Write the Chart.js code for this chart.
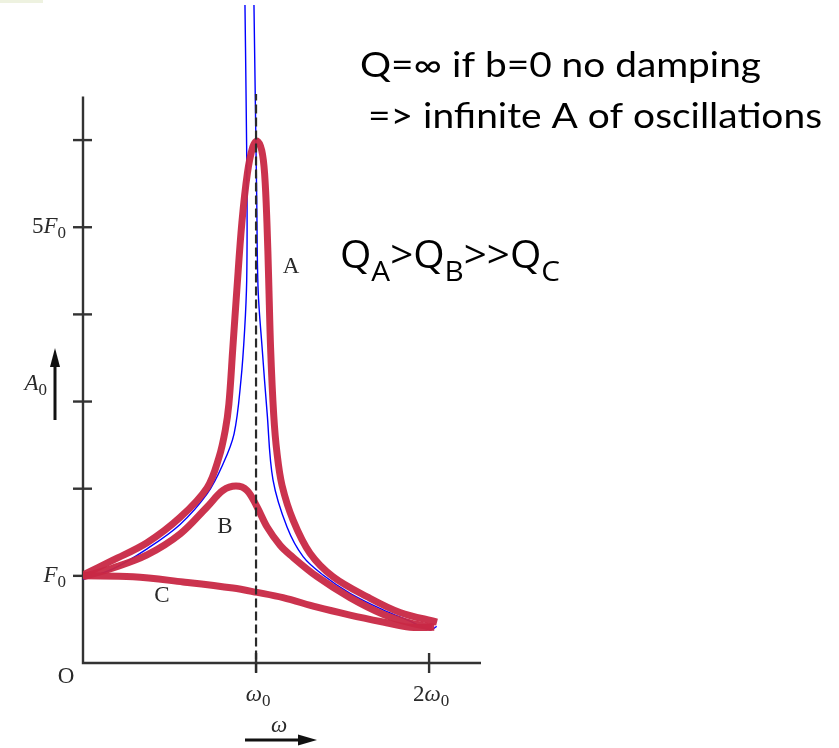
<!DOCTYPE html>
<html>
<head>
<meta charset="utf-8">
<script src="https://cdn.jsdelivr.net/npm/chart.js@4.4.1/dist/chart.umd.min.js"></script>
<style>
  html, body { margin: 0; padding: 0; background: #fff; }
  #wrap { width: 839px; height: 748px; }
</style>
</head>
<body>
<div id="wrap"><canvas id="chart" width="839" height="748"></canvas></div>
<script>
// omega in units of w0, amplitude in units of F0
const curveA_w   = [0, 0.173, 0.370, 0.561, 0.717, 0.786, 0.822, 0.843, 0.866, 0.889, 0.918, 0.950, 0.981, 1.006, 1.033, 1.050, 1.063, 1.073, 1.084, 1.102, 1.121, 1.150, 1.214, 1.312, 1.445, 1.642, 1.832, 2.046];
const curveA_amp = [1.01, 1.18, 1.38, 1.67, 2.01, 2.36, 2.67, 2.97, 3.62, 4.28, 5.05, 5.62, 5.92, 5.99, 5.88, 5.60, 5.05, 4.40, 3.62, 2.85, 2.41, 2.04, 1.64, 1.26, 0.99, 0.76, 0.58, 0.47];

const curveB_w   = [0, 0.173, 0.370, 0.561, 0.717, 0.809, 0.884, 0.948, 1.006, 1.064, 1.139, 1.197, 1.353, 1.543, 1.734, 1.890, 2.017];
const curveB_amp = [0.99, 1.09, 1.24, 1.48, 1.79, 1.98, 2.03, 1.98, 1.79, 1.56, 1.35, 1.24, 0.99, 0.75, 0.56, 0.46, 0.41];

const curveC_w   = [0, 0.289, 0.578, 0.867, 1.006, 1.156, 1.353, 1.543, 1.734, 1.890, 2.030];
const curveC_amp = [1.00, 0.99, 0.93, 0.86, 0.81, 0.75, 0.64, 0.55, 0.47, 0.41, 0.41];

// undamped response (b = 0), two branches
const freeLeft_w    = [0, 0.173, 0.370, 0.561, 0.717, 0.806, 0.873, 0.913, 0.934, 0.946, 0.948, 0.942, 0.936];
const freeLeft_amp  = [0.96, 1.08, 1.31, 1.59, 1.94, 2.27, 2.63, 3.25, 3.82, 4.39, 5.31, 6.57, 7.55];
const freeRight_w   = [0.988, 1.004, 1.012, 1.035, 1.064, 1.098, 1.179, 1.272, 1.387, 1.543, 1.734, 1.890, 2.006, 2.044];
const freeRight_amp = [7.55, 5.31, 4.28, 3.62, 2.87, 2.10, 1.56, 1.22, 1.01, 0.80, 0.61, 0.48, 0.38, 0.42];

const resonanceLine_w   = [1, 1];
const resonanceLine_amp = [-0.11, 6.53];

const ampTicks    = [1, 2, 3, 4, 5, 6];
const ampLabels   = { 1: ['', 'F', '0'], 5: ['5', 'F', '0'] };
const omegaTicks  = [1, 2];
const omegaLabels = { 1: ['', 'ω', '0'], 2: ['2', 'ω', '0'] };
const axisTop = 6.5, axisRight = 2.3;

const toPoints = (xs, ys) => xs.map((x, i) => ({ x: x, y: ys[i] }));

const RED = 'rgba(200, 40, 68, 0.95)';
const SERIF = '"Liberation Serif", "DejaVu Serif", serif';
const SANS = 'Lato, "Open Sans", sans-serif';

function serifLabel(ctx, parts, x, y, align) {
  // parts: [roman prefix, italic letter, subscript]
  const fonts = ['23px ' + SERIF, 'italic 23px ' + SERIF, '17px ' + SERIF];
  let w = 0;
  const widths = parts.map((p, i) => { ctx.font = fonts[i]; const m = ctx.measureText(p).width; w += m; return m; });
  let cx = align === 'right' ? x - w : (align === 'center' ? x - w / 2 : x);
  ctx.textAlign = 'left';
  ctx.textBaseline = 'alphabetic';
  parts.forEach((p, i) => {
    ctx.font = fonts[i];
    ctx.fillText(p, cx, i === 2 ? y + 5 : y);
    cx += widths[i];
  });
}

function fitText(ctx, text, x, y, size, width) {
  ctx.save();
  ctx.font = size + 'px ' + SANS;
  const m = ctx.measureText(text).width;
  ctx.translate(x, y);
  ctx.scale(width / m, 1);
  ctx.textAlign = 'left';
  ctx.fillText(text, 0, 0);
  ctx.restore();
}

const decorations = {
  id: 'decorations',
  beforeDraw(chart) {
    const ctx = chart.ctx;
    ctx.save();
    ctx.fillStyle = '#fff';
    ctx.fillRect(0, 0, chart.width, chart.height);
    ctx.fillStyle = '#eef2e0';
    ctx.fillRect(0, 0, 43, 3);
    ctx.restore();
  },
  beforeDatasetsDraw(chart) {
    const ctx = chart.ctx, xs = chart.scales.x, ys = chart.scales.y;
    const x0 = xs.getPixelForValue(0), y0 = ys.getPixelForValue(0);
    ctx.save();
    ctx.strokeStyle = '#333';
    ctx.lineWidth = 2.4;
    ctx.beginPath();
    ctx.moveTo(x0, ys.getPixelForValue(axisTop));
    ctx.lineTo(x0, y0);
    ctx.lineTo(xs.getPixelForValue(axisRight), y0);
    ctx.stroke();
    ampTicks.forEach(v => {
      const py = ys.getPixelForValue(v);
      ctx.beginPath(); ctx.moveTo(x0 - 10, py); ctx.lineTo(x0 + 9, py); ctx.stroke();
    });
    omegaTicks.forEach(v => {
      const px = xs.getPixelForValue(v);
      ctx.beginPath(); ctx.moveTo(px, y0 - 10); ctx.lineTo(px, y0 + 10); ctx.stroke();
    });
    ctx.restore();
  },
  afterDraw(chart) {
    const ctx = chart.ctx, xs = chart.scales.x, ys = chart.scales.y;
    const x0 = xs.getPixelForValue(0), y0 = ys.getPixelForValue(0);
    ctx.save();
    ctx.fillStyle = '#2a2a2a';
    // tick labels
    Object.keys(ampLabels).forEach(k => {
      serifLabel(ctx, ampLabels[k], x0 - 17, ys.getPixelForValue(+k) + 6, 'right');
    });
    Object.keys(omegaLabels).forEach(k => {
      serifLabel(ctx, omegaLabels[k], xs.getPixelForValue(+k) + 2, y0 + 38, 'center');
    });
    ctx.font = '23px ' + SERIF;
    ctx.textAlign = 'center';
    ctx.fillText('O', x0 - 17, y0 + 20);
    // axis names with arrows
    serifLabel(ctx, ['', 'A', '0'], 47, 390, 'right');
    ctx.fillStyle = '#111';
    ctx.strokeStyle = '#111';
    ctx.lineWidth = 3;
    ctx.beginPath(); ctx.moveTo(55, 420); ctx.lineTo(55, 362); ctx.stroke();
    ctx.beginPath(); ctx.moveTo(55, 348); ctx.lineTo(60, 367); ctx.lineTo(50, 367); ctx.closePath(); ctx.fill();
    ctx.fillStyle = '#2a2a2a';
    serifLabel(ctx, ['', 'ω', ''], 279, 732, 'center');
    ctx.fillStyle = '#111';
    ctx.beginPath(); ctx.moveTo(245, 740); ctx.lineTo(302, 740); ctx.stroke();
    ctx.beginPath(); ctx.moveTo(317, 740); ctx.lineTo(298, 734.5); ctx.lineTo(298, 745.5); ctx.closePath(); ctx.fill();
    // curve names
    ctx.fillStyle = '#2a2a2a';
    ctx.font = '23px ' + SERIF;
    ctx.textAlign = 'center';
    ctx.fillText('A', 291, 273);
    ctx.fillText('B', 225, 533);
    ctx.fillText('C', 162, 602);
    // notes
    ctx.fillStyle = '#000';
    fitText(ctx, 'Q=\u221e if b=0 no damping', 360, 77, 34, 401);
    fitText(ctx, '=> infinite A of oscillations', 368, 128, 34, 454);
    // Q_A>Q_B>>Q_C
    const parts = [['Q', 0], ['A', 1], ['>Q', 0], ['B', 1], ['>>Q', 0], ['C', 1]];
    const qFont = '"Open Sans", Lato, sans-serif';
    ctx.save();
    let w = 0;
    parts.forEach(p => { ctx.font = (p[1] ? 28 : 38) + 'px ' + qFont; w += ctx.measureText(p[0]).width; });
    ctx.translate(340, 268);
    ctx.scale(220 / w, 1);
    let cx = 0;
    ctx.textAlign = 'left';
    parts.forEach(p => {
      ctx.font = (p[1] ? 28 : 38) + 'px ' + qFont;
      ctx.fillText(p[0], cx, p[1] ? 13 : 0);
      cx += ctx.measureText(p[0]).width;
    });
    ctx.restore();
    ctx.restore();
  }
};

const redLine = (data) => ({
  data: data,
  borderColor: RED,
  borderWidth: 7,
  pointRadius: 0,
  tension: 0.35,
  fill: false
});

new Chart(document.getElementById('chart').getContext('2d'), {
  type: 'line',
  data: {
    datasets: [
      {
        data: toPoints(resonanceLine_w, resonanceLine_amp),
        borderColor: '#2a2a2a',
        borderWidth: 2.2,
        borderDash: [9, 4],
        pointRadius: 0,
        clip: false
      },
      redLine(toPoints(curveC_w, curveC_amp)),
      redLine(toPoints(curveB_w, curveB_amp)),
      redLine(toPoints(curveA_w, curveA_amp)),
      {
        data: toPoints(freeLeft_w, freeLeft_amp),
        borderColor: '#0000ff',
        borderWidth: 1.4,
        pointRadius: 0,
        tension: 0.35
      },
      {
        data: toPoints(freeRight_w, freeRight_amp),
        borderColor: '#0000ff',
        borderWidth: 1.4,
        pointRadius: 0,
        tension: 0.35
      }
    ]
  },
  options: {
    responsive: false,
    animation: false,
    devicePixelRatio: 1,
    layout: { padding: { left: 83, right: 358, top: 5, bottom: 85 } },
    scales: {
      x: { type: 'linear', min: 0, max: axisRight, display: false },
      y: { type: 'linear', min: 0, max: 7.55, display: false }
    },
    plugins: {
      legend: { display: false },
      tooltip: { enabled: false }
    },
    elements: { line: { borderCapStyle: 'butt', borderJoinStyle: 'round' } }
  },
  plugins: [decorations]
});
</script>
</body>
</html>
